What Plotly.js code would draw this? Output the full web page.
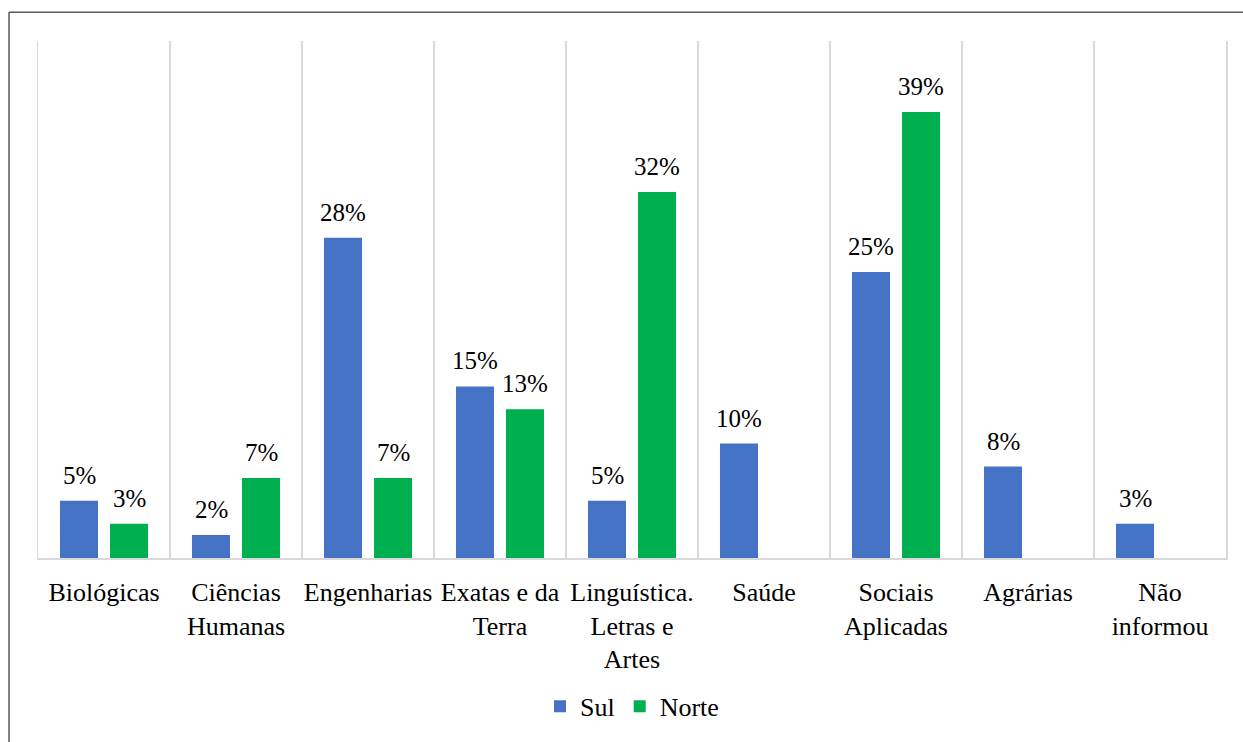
<!DOCTYPE html>
<html>
<head>
<meta charset="utf-8">
<script src="https://cdn.plot.ly/plotly-3.0.1.min.js"></script>
<style>
  html, body { margin: 0; padding: 0; background: #ffffff; }
  #chart { width: 1243px; height: 742px; }
  /* serif face for every SVG text of the chart */
  #chart text, #chart tspan { font-family: "Liberation Serif", "Times New Roman", serif !important; }
</style>
</head>
<body>
<div id="chart"></div>
<script>
// Áreas do conhecimento (rótulos do eixo x)
const categories = [
  "Biológicas",
  "Ciências<br>Humanas",
  "Engenharias",
  "Exatas e da<br>Terra",
  "Linguística.<br>Letras e<br>Artes",
  "Saúde",
  "Sociais<br>Aplicadas",
  "Agrárias",
  "Não<br>informou"
];

// Percentuais por região (null = sem registro)
const sulValues   = [5, 2, 28, 15, 5, 10, 25, 8, 3];
const norteValues = [3, 7, 7, 13, 32, null, 39, null, null];

const sulColor = "#4472C4";
const norteColor = "#00B050";
const serif = "Times New Roman";

const traces = [
  { type: "bar", name: "Sul", x: categories, y: sulValues,
    marker: { color: sulColor }, hoverinfo: "skip" },
  { type: "bar", name: "Norte", x: categories, y: norteValues,
    marker: { color: norteColor }, hoverinfo: "skip" }
];

// Rótulos de valor acima de cada barra
const annotations = [];
function addLabels(values, shift) {
  values.forEach((v, i) => {
    if (v === null) return;
    annotations.push({
      x: categories[i], y: v, xref: "x", yref: "y",
      text: v + "%", showarrow: false,
      xanchor: "center", yanchor: "bottom",
      xshift: shift, yshift: 10,
      font: { family: serif, size: 25, color: "#000000" }
    });
  });
}
addLabels(sulValues, -25);
addLabels(norteValues, 25);

// Moldura externa (bordas superior e esquerda)
const frame = { color: "#595959", width: 1.5 };
const shapes = [
  { type: "line", xref: "paper", yref: "paper", x0: -0.0244, x1: 1.05, y0: 1.0555, y1: 1.0555, line: frame },
  { type: "line", xref: "paper", yref: "paper", x0: -0.0244, x1: -0.0244, y0: 1.0555, y1: -0.4, line: frame }
];

const layout = {
  width: 1243, height: 742,
  margin: { l: 38, r: 17, t: 41, b: 178 },
  paper_bgcolor: "#ffffff", plot_bgcolor: "#ffffff",
  font: { family: serif, size: 26, color: "#000000" },
  barmode: "group",
  bargap: 0.2424,
  bargroupgap: 0.24,
  showlegend: true,
  legend: {
    orientation: "h", x: 0.5, xanchor: "center", y: -0.287, yanchor: "middle",
    font: { family: serif, size: 26, color: "#000000" },
    itemclick: false, itemdoubleclick: false
  },
  xaxis: {
    type: "category",
    tickson: "boundaries",
    ticks: "",
    tickangle: 0,
    ticklabelstandoff: 10,
    automargin: false,
    showgrid: true, gridcolor: "#d9d9d9", gridwidth: 1.5,
    showline: true, linecolor: "#d9d9d9", linewidth: 1.5,
    tickfont: { family: serif, size: 26, color: "#000000" },
    fixedrange: true
  },
  yaxis: {
    range: [0, 45.2],
    automargin: false,
    showgrid: false, zeroline: false, showticklabels: false,
    showline: true, mirror: true, linecolor: "#d9d9d9", linewidth: 1.5,
    fixedrange: true
  },
  annotations: annotations,
  shapes: shapes
};

Plotly.newPlot("chart", traces, layout, { displayModeBar: false, staticPlot: true });
</script>
</body>
</html>
